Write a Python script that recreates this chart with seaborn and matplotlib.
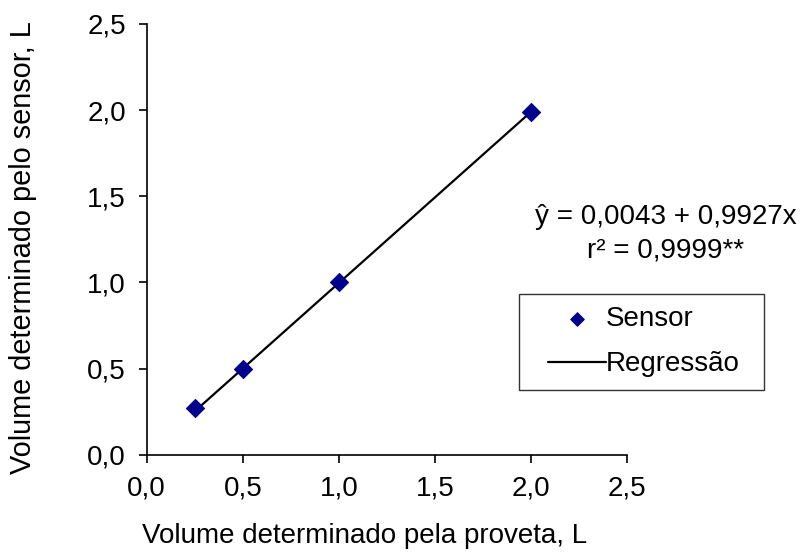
import numpy as np
import pandas as pd
import seaborn as sns
import matplotlib.pyplot as plt
from matplotlib.lines import Line2D
from matplotlib.collections import PathCollection
from matplotlib.legend_handler import HandlerLine2D, HandlerPathCollection

# dados
vol_proveta = [0.25, 0.5, 1.0, 2.0]
vol_sensor = [0.27, 0.50, 1.00, 1.99]
coef_a = 0.0043
coef_b = 0.9927
tick_vals = [0.0, 0.5, 1.0, 1.5, 2.0, 2.5]
tick_labels = ["0,0", "0,5", "1,0", "1,5", "2,0", "2,5"]

sns.set_theme(style="white")
plt.rcParams['font.family'] = ['Liberation Sans', 'DejaVu Sans']
plt.rcParams['text.color'] = 'black'
plt.rcParams['axes.labelcolor'] = 'black'
FS = 20

df = pd.DataFrame({"proveta": vol_proveta, "sensor": vol_sensor})
x_fit = np.array([min(vol_proveta), max(vol_proveta)])
fit = pd.DataFrame({"x": x_fit, "y": coef_a + coef_b * x_fit})

fig, ax = plt.subplots(figsize=(8.06, 5.56), dpi=100)
fig.subplots_adjust(left=0.182, right=0.778, top=0.957, bottom=0.182)

sns.lineplot(data=fit, x="x", y="y", ax=ax, color="black", linewidth=1.6,
             label="Regressão", zorder=2)
sns.scatterplot(data=df, x="proveta", y="sensor", ax=ax, marker="D", s=85,
                color="#00008B", edgecolor="#00008B", label="Sensor", zorder=3)

ax.set_xlim(0, 2.5)
ax.set_ylim(0, 2.5)
ax.set_xticks(tick_vals)
ax.set_xticklabels(tick_labels)
ax.set_yticks(tick_vals)
ax.set_yticklabels(tick_labels)
ax.tick_params(axis="both", direction="out", length=6, width=1.2, colors="black",
               labelsize=FS, bottom=True, left=True, pad=9)
for side in ["top", "right"]:
    ax.spines[side].set_visible(False)
for side in ["left", "bottom"]:
    ax.spines[side].set_color("black")
    ax.spines[side].set_linewidth(1.2)

ax.set_xlabel("Volume determinado pela proveta, L", fontsize=FS)
ax.set_ylabel("Volume determinado pelo sensor, L", fontsize=20.8)
ax.xaxis.set_label_coords(0.454, -0.158)
ax.yaxis.set_label_coords(-0.228, 0.482)

ax.text(2.70, 1.38, "ŷ = 0,0043 + 0,9927x", fontsize=FS, ha="center",
        va="center", clip_on=False)
ax.text(2.70, 1.185, "r² = 0,9999**", fontsize=FS, ha="center",
        va="center", clip_on=False)

handles, labels = ax.get_legend_handles_labels()
order = [labels.index("Sensor"), labels.index("Regressão")]
leg = ax.legend([handles[i] for i in order], [labels[i] for i in order],
                loc="upper left",
                bbox_to_anchor=(519 / 806, 1 - 386 / 556, 245 / 806, 92 / 556),
                bbox_transform=fig.transFigure, mode="expand",
                fontsize=FS, frameon=True, fancybox=False, edgecolor="black",
                borderpad=0.45, handlelength=2.69, handletextpad=0.0,
                labelspacing=0.68, borderaxespad=0, markerscale=0.75,
                handler_map={Line2D: HandlerLine2D(xpad=0.6),
                             PathCollection: HandlerPathCollection(xpad=0.6)})
leg.get_frame().set_linewidth(1.0)
for t in leg.get_texts():
    t.set_color("black")

plt.savefig("out.png", dpi=100)
plt.close()
